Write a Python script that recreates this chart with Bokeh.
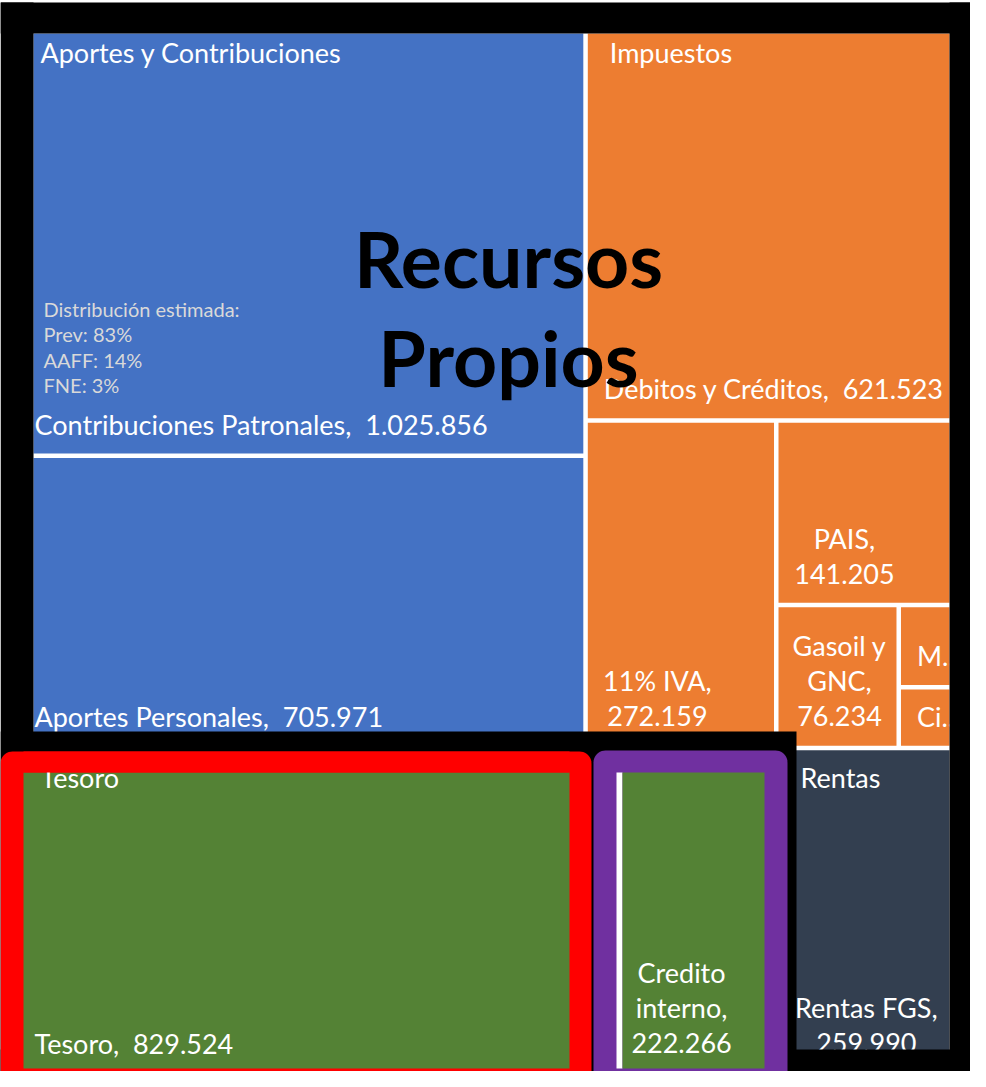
import math
from bokeh.plotting import figure
from bokeh.models import Range1d
from bokeh.core.properties import value
from bokeh.embed import file_html
from bokeh.resources import INLINE

# ---------------- data ----------------
group_names = ["Aportes y Contribuciones", "Impuestos", "Tesoro", "Rentas"]
aportes_items = ["Contribuciones Patronales", "Aportes Personales"]
aportes_values = [1025856, 705971]
impuestos_items = ["Debitos y Créditos", "11% IVA", "PAIS", "Gasoil y\nGNC", "M...", "Ci..."]
impuestos_values = [621523, 272159, 141205, 76234, 19000, 14000]
tesoro_items = ["Tesoro", "Credito\ninterno"]
tesoro_values = [829524, 222266]
rentas_items = ["Rentas FGS"]
rentas_values = [259990]
nota_lines = ["Distribución estimada:", "Prev: 83%", "AAFF: 14%", "FNE: 3%"]
titulo_lines = ["Recursos", "Propios"]

# ---------------- styles ----------------
group_colors = ["#4472C4", "#ED7D31", "#548235", "#333F50"]
value_on_new_line = {"11% IVA", "PAIS", "Gasoil y\nGNC", "Credito\ninterno", "Rentas FGS"}
value_hidden = {"M...", "Ci..."}
left_aligned_leaves = {"Contribuciones Patronales", "Aportes Personales", "Tesoro"}
FONT = "Lato"
FS = 27
LINE_H = 35.5
GAP = 4.5
BL = 0.42          # baseline correction (fraction of font size)
BAND_RIGHT, BAND_TOP = 796, 731

p = figure(width=970, height=1071, x_range=Range1d(0, 970), y_range=Range1d(1071, 0),
           output_backend="svg", toolbar_location=None, min_border=0,
           x_axis_type=None, y_axis_type=None)
p.grid.visible = False
p.outline_line_color = None
p.background_fill_color = "white"
p.border_fill_color = "white"


def split(rect, vals, orient):
    x0, x1, y0, y1 = rect
    tot = float(sum(vals))
    out = []
    pos = x0 if orient == "x" else y0
    for v in vals:
        if orient == "x":
            w = (x1 - x0) * v / tot
            out.append((pos, pos + w, y0, y1))
            pos += w
        else:
            h = (y1 - y0) * v / tot
            out.append((x0, x1, pos, pos + h))
            pos += h
    return out


def peel(rect, vals, orient):
    if len(vals) == 1:
        return [rect]
    first, rest = split(rect, [vals[0], sum(vals[1:])], orient)
    return [first] + peel(rest, vals[1:], "y" if orient == "x" else "x")


def inset(r):
    g = GAP / 2
    return (r[0] + g, r[1] - g, r[2] + g, r[3] - g)


CHAR_W = {"r": 0.36, "t": 0.35, "s": 0.40, "f": 0.32, "c": 0.45, "i": 0.24, "l": 0.24,
          "j": 0.24, "m": 0.83, "w": 0.75, "y": 0.48, "F": 0.55, "S": 0.50, "G": 0.72,
          "P": 0.58, "C": 0.63, "A": 0.66, "I": 0.28, "V": 0.66, "N": 0.75, "M": 0.86,
          "%": 0.80, " ": 0.19, ".": 0.22, ",": 0.22, ":": 0.22}


def est_width(s, fs):
    w = 0.0
    for ch in s:
        if ch in CHAR_W:
            w += CHAR_W[ch]
        elif ch.isdigit():
            w += 0.58
        elif ch.isupper():
            w += 0.65
        else:
            w += 0.53
    return w * fs


def put_text(xs, ys, texts, size, color="white", align="left", bold=False):
    ys = [y - BL * size for y in ys]
    p.text(x=xs, y=ys, text=texts, text_font=value(FONT), text_font_size=f"{size}px",
           text_color=color, text_align=align, text_baseline="alphabetic",
           text_font_style="bold" if bold else "normal")


def fmt(v):
    return f"{v:,}".replace(",", ".")


# ---------------- layout ----------------
frame = (33 - GAP / 2, 949 + GAP / 2, 33 - GAP / 2, 1072 + GAP / 2)
sums = [sum(aportes_values), sum(impuestos_values), sum(tesoro_values), sum(rentas_values)]
rows = split(frame, [sums[0] + sums[1], sums[2] + sums[3]], "y")
g_rects = split(rows[0], sums[:2], "x") + split(rows[1], sums[2:], "x")

leaf_sets = [
    (aportes_items, aportes_values, peel(g_rects[0], aportes_values, "y")),
    (impuestos_items, impuestos_values, peel(g_rects[1], impuestos_values, "y")),
    (tesoro_items, tesoro_values, peel(g_rects[2], tesoro_values, "x")),
    (rentas_items, rentas_values, peel(g_rects[3], rentas_values, "x")),
]

# cells
L, R, T, B, C = [], [], [], [], []
for gi, (names, vals, rects) in enumerate(leaf_sets):
    for r in rects:
        ir = inset(r)
        L.append(ir[0]); R.append(ir[1]); T.append(ir[2]); B.append(ir[3])
        C.append(group_colors[gi])
p.quad(left=L, right=R, top=T, bottom=B, fill_color=C, line_color=None)


def leaf_labels(gi, vis_left=None):
    names, vals, rects = leaf_sets[gi]
    for name, v, r in zip(names, vals, rects):
        ir = inset(r)
        if name in left_aligned_leaves:
            pad = 1
        elif gi == 3:
            pad = 0
        else:
            pad = 16
        lines = name.split("\n")
        if name not in value_hidden:
            if name in value_on_new_line:
                lines[-1] += ","
                lines.append(fmt(v))
            else:
                lines[-1] += ",\u00a0 " + fmt(v)
        left = max(ir[0], vis_left) if vis_left is not None else ir[0]
        left += pad
        last = ir[3] - 18
        ys = [last - (len(lines) - 1 - k) * LINE_H for k in range(len(lines))]
        if len(lines) == 1:
            put_text([left], ys, lines, FS)
        else:
            wmax = max(est_width(s, FS) for s in lines)
            put_text([left + wmax / 2] * len(lines), ys, lines, FS, align="center")
        if gi == 0 and name == aportes_items[0]:
            nb = [last - 42 - 25.3 * (len(nota_lines) - 1 - k) for k in range(len(nota_lines))]
            put_text([ir[0] + 10] * len(nota_lines), nb, nota_lines, 20, color="#D9D9D9")


def header(gi, hpad, hdy, vis_left=None):
    ir = inset(g_rects[gi])
    left = max(ir[0], vis_left) if vis_left is not None else ir[0]
    put_text([left + hpad], [ir[2] + hdy], [group_names[gi]], FS)


leaf_labels(0)
leaf_labels(1)
leaf_labels(3, vis_left=BAND_RIGHT)
header(0, 7, 30)
header(1, 22, 30)
header(3, 4, 39, vis_left=BAND_RIGHT)

# ---------------- black frame & band ----------------
p.quad(left=[0, 0, 0, 949, 0], right=[981, 981, 33, 981, BAND_RIGHT],
       top=[2, 1049, 2, 2, BAND_TOP], bottom=[33, 1081, 1081, 1081, 1081],
       fill_color="black", line_color=None)


def rrect(x0, x1, y0, y1, r, n=10):
    xs, ys = [], []
    corners = [(x1 - r, y0 + r, -90, 0), (x1 - r, y1 - r, 0, 90),
               (x0 + r, y1 - r, 90, 180), (x0 + r, y0 + r, 180, 270)]
    for cx, cy, a0, a1 in corners:
        for k in range(n + 1):
            a = math.radians(a0 + (a1 - a0) * k / n)
            xs.append(cx + r * math.cos(a))
            ys.append(cy + r * math.sin(a))
    return xs, ys


# callout frames
xs, ys = rrect(0, 591, 751, 1100, 12)
p.patch(xs, ys, fill_color="#FF0000", line_color=None)
p.quad(left=[23], right=[569], top=[772], bottom=[1068], fill_color=group_colors[2], line_color=None)
xs, ys = rrect(593, 787, 750, 1100, 12)
p.patch(xs, ys, fill_color="#7030A0", line_color=None)
p.quad(left=[616, 622], right=[622, 764], top=[772, 772], bottom=[1068, 1068],
       fill_color=["white", group_colors[2]], line_color=None)

header(2, 7, 39)
p.quad(left=[23], right=[569], top=[751], bottom=[772], fill_color="#FF0000", line_color=None)
leaf_labels(2)

# title
put_text([508], [290], [titulo_lines[0]], 77, color="black", align="center", bold=True)
put_text([508], [389], [titulo_lines[1]], 77, color="black", align="center", bold=True)

open("out.html", "w").write(file_html(p, INLINE))
